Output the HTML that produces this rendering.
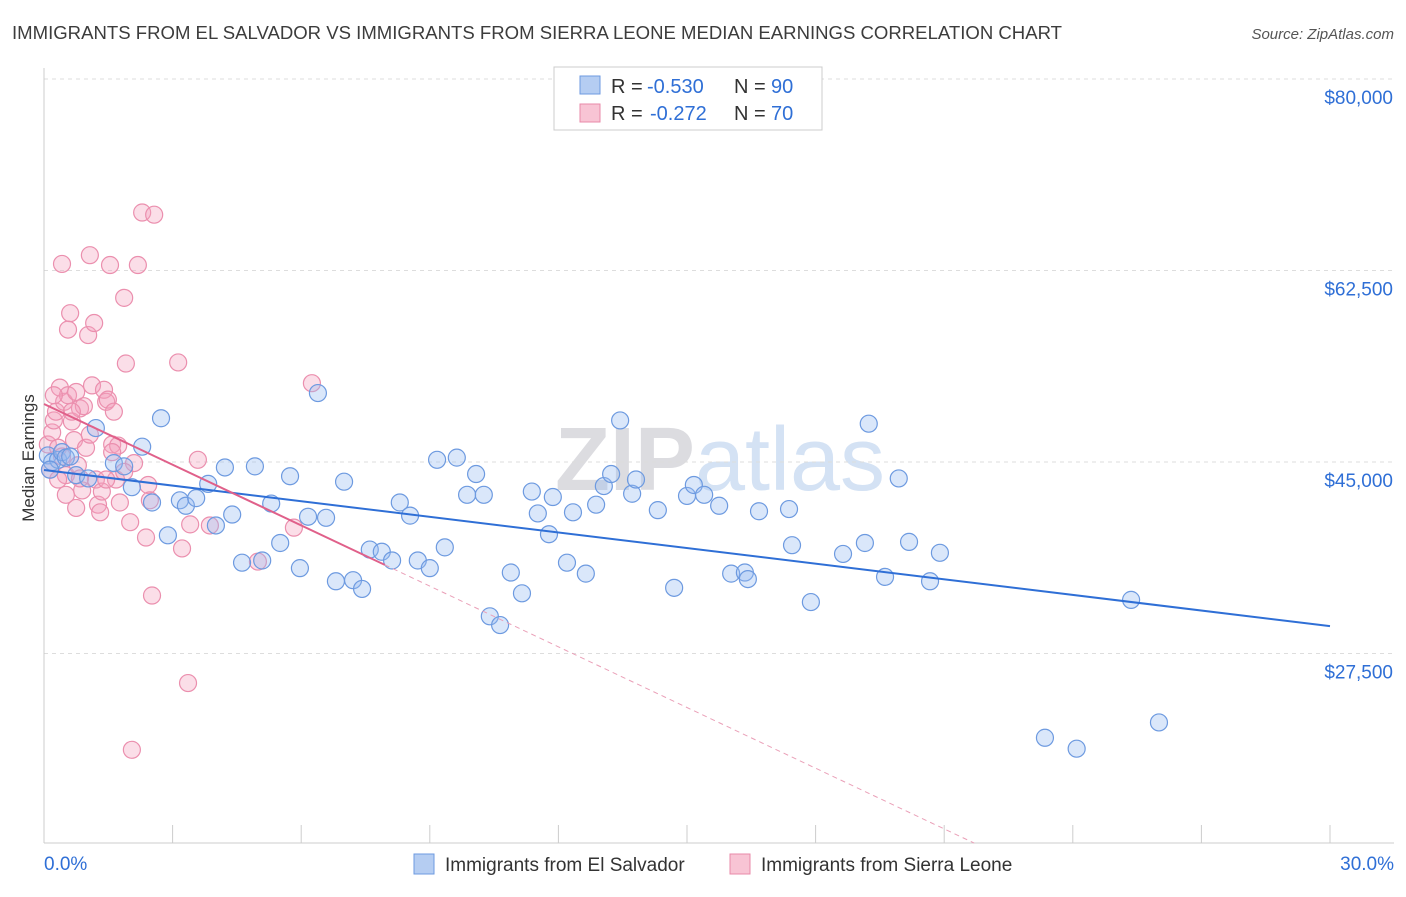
<!DOCTYPE html>
<html><head><meta charset="utf-8"><style>
body{margin:0;background:#fff;font-family:"Liberation Sans",sans-serif;}
svg text{font-family:"Liberation Sans",sans-serif;}
</style></head><body>
<svg id="chart" width="1406" height="892" xmlns="http://www.w3.org/2000/svg">
<text x="12" y="39" font-size="18" fill="#3c3c3c" textLength="1050" lengthAdjust="spacingAndGlyphs">IMMIGRANTS FROM EL SALVADOR VS IMMIGRANTS FROM SIERRA LEONE MEDIAN EARNINGS CORRELATION CHART</text>
<text x="1394" y="39" font-size="15" fill="#555" font-style="italic" text-anchor="end">Source: ZipAtlas.com</text>
<text x="720" y="490" font-size="90" fill="#e4e4ea" text-anchor="middle" font-family="Liberation Serif"><tspan font-weight="bold" fill="#dcdce0">ZIP</tspan><tspan fill="#d4e2f4" font-family="Liberation Sans">atlas</tspan></text>
<g id="grid"></g>
<g id="axes"></g>
<g id="marks"></g>
<text transform="translate(34,458) rotate(-90)" font-size="17" fill="#333" text-anchor="middle">Median Earnings</text>
<g>
<rect x="554" y="67" width="268" height="63" fill="#fff" stroke="#ccc"/>
<rect x="580" y="76" width="20" height="18" fill="#b5cdf2" stroke="#6d9ae0"/>
<rect x="580" y="104" width="20" height="18" fill="#f8c4d4" stroke="#e88aa8"/>
<text x="611" y="93" font-size="20" fill="#333">R =</text>
<text x="647" y="93" font-size="20" fill="#2f6fd6">-0.530</text>
<text x="734" y="93" font-size="20" fill="#333">N =</text>
<text x="771" y="93" font-size="20" fill="#2f6fd6">90</text>
<text x="611" y="120" font-size="20" fill="#333">R =</text>
<text x="650" y="120" font-size="20" fill="#2f6fd6">-0.272</text>
<text x="734" y="120" font-size="20" fill="#333">N =</text>
<text x="771" y="120" font-size="20" fill="#2f6fd6">70</text>
</g>
<g>
<rect x="414" y="854" width="20" height="20" fill="#b5cdf2" stroke="#6d9ae0"/>
<text x="445" y="871" font-size="19" fill="#333">Immigrants from El Salvador</text>
<rect x="730" y="854" width="20" height="20" fill="#f8c4d4" stroke="#e88aa8"/>
<text x="761" y="871" font-size="19" fill="#333">Immigrants from Sierra Leone</text>
</g>
</svg>
<script>
const yTicks=[80000,62500,45000,27500];
const yTickLabels=["$80,000","$62,500","$45,000","$27,500"];
const xTicks=[0,3,6,9,12,15,18,21,24,27,30];
const blueX=[0.09,0.19,0.33,0.42,0.51,0.61,0.14,0.75,1.03,1.21,1.63,1.87,2.05,2.29,2.52,2.73,2.89,3.17,3.31,3.55,3.83,4.01,4.22,4.39,4.62,4.92,5.09,5.30,5.51,5.74,5.97,6.16,6.39,6.58,6.81,7.00,7.21,7.42,7.60,7.88,8.12,8.30,8.54,8.72,9.00,9.17,9.35,9.63,9.87,10.08,10.26,10.40,10.64,10.89,11.15,11.38,11.52,11.78,11.87,12.20,12.34,12.64,12.88,13.06,13.23,13.44,13.72,13.81,14.32,14.70,15.00,15.16,15.40,15.75,16.03,16.35,16.42,16.68,17.38,17.45,17.89,18.64,19.15,19.24,19.62,19.94,20.18,20.67,20.90,23.35,24.09,25.36,26.01];
const blueY=[45.6,45.0,45.2,45.9,45.4,45.5,44.3,43.8,43.5,48.1,44.9,44.6,42.7,46.4,41.3,49.0,38.3,41.5,41.0,41.7,43.0,39.2,44.5,40.2,35.8,44.6,36.0,41.2,37.6,43.7,35.3,40.0,51.3,39.9,34.1,43.2,34.2,33.4,37.0,36.8,36.0,41.3,40.1,36.0,35.3,45.2,37.2,45.4,42.0,43.9,42.0,30.9,30.1,34.9,33.0,42.3,40.3,38.4,41.8,35.8,40.4,34.8,41.1,42.8,43.9,48.8,42.1,43.4,40.6,33.5,41.9,42.9,42.0,41.0,34.8,34.9,34.3,40.5,40.7,37.4,32.2,36.6,37.6,48.5,34.5,43.5,37.7,34.1,36.7,19.8,18.8,32.4,21.2];
const pinkX=[0.09,0.14,0.19,0.23,0.28,0.33,0.37,0.42,0.47,0.51,0.56,0.61,0.65,0.70,0.75,0.79,0.84,0.89,0.93,0.98,1.03,1.07,1.12,1.17,1.21,1.26,1.31,1.35,1.40,1.45,1.49,1.54,1.59,1.63,1.68,1.73,1.77,1.87,1.91,2.01,2.05,2.10,2.19,2.29,2.38,2.43,2.47,2.52,2.57,3.13,3.22,3.36,3.41,3.59,3.87,4.99,5.83,6.25,0.42,1.07,0.33,0.84,0.56,1.45,1.59,1.87,0.65,0.23,0.51,0.75];
const pinkY=[46.6,44.3,47.7,48.8,49.6,46.3,51.8,45.5,50.5,43.8,57.1,58.6,48.7,47.0,40.8,44.7,49.9,42.4,50.1,46.3,56.6,47.5,52.0,57.7,43.4,41.1,40.4,42.3,51.6,50.5,50.7,63.0,46.6,49.6,43.4,46.5,41.3,60.0,54.0,39.5,18.7,44.9,63.0,67.8,38.1,42.9,41.5,32.8,67.6,54.1,37.1,24.8,39.3,45.2,39.2,35.9,39.0,52.2,63.1,63.9,43.4,43.5,51.1,43.4,45.9,44.1,49.6,51.1,42.0,51.4];
const blueTrend=[44.27,30.0];
const pinkTrend=[50.3,35.6,7.95,21.7];
const NS="http://www.w3.org/2000/svg";
const sx=v=>44+v/30*1286;
const sy=v=>79+(80-v)/17.5*191.5;
function mk(tag,attrs,parent){const e=document.createElementNS(NS,tag);for(const k in attrs)e.setAttribute(k,attrs[k]);parent.appendChild(e);return e;}
const grid=document.getElementById('grid'),axes=document.getElementById('axes'),marks=document.getElementById('marks');
yTicks.forEach((t,i)=>{
  const g=mk('line',{x1:44,x2:1394,y1:sy(t/1000),y2:sy(t/1000),stroke:'#ddd','stroke-dasharray':'4,4'},grid);
  
  
  const tx=mk('text',{x:1393,y:sy(t/1000)+25,'font-size':19,fill:'#2f6fd6','text-anchor':'end'},axes);
  tx.textContent=yTickLabels[i];
  
  
});
const ax=mk('line',{x1:44,x2:44,y1:68,y2:843,stroke:'#ccc'},axes);


const bx=mk('line',{x1:44,x2:1394,y1:843,y2:843,stroke:'#ccc'},axes);


xTicks.forEach(t=>{
  const l=mk('line',{x1:sx(t),x2:sx(t),y1:825,y2:843,stroke:'#ccc'},axes);
  
  
});
const xl0=mk('text',{x:44,y:870,'font-size':19,fill:'#2f6fd6'},axes);xl0.textContent='0.0%';


const xl1=mk('text',{x:1394,y:870,'font-size':19,fill:'#2f6fd6','text-anchor':'end'},axes);xl1.textContent='30.0%';


pinkX.forEach((x,i)=>{
  const c=mk('circle',{cx:sx(x),cy:sy(pinkY[i]),r:8.5,fill:'rgba(244,160,188,0.35)',stroke:'#eb8fae','stroke-width':1.2},marks);
  
  
});
blueX.forEach((x,i)=>{
  const c=mk('circle',{cx:sx(x),cy:sy(blueY[i]),r:8.5,fill:'rgba(150,185,240,0.35)',stroke:'#6d9ae0','stroke-width':1.2},marks);
  
  
});
const bt=mk('line',{x1:sx(0),y1:sy(blueTrend[0]),x2:sx(30),y2:sy(blueTrend[1]),stroke:'#2f6fd6','stroke-width':2},marks);


const slope=(pinkTrend[0]-pinkTrend[1])/pinkTrend[2];
const pt=mk('line',{x1:sx(0),y1:sy(pinkTrend[0]),x2:sx(pinkTrend[2]),y2:sy(pinkTrend[1]),stroke:'#e0608a','stroke-width':2},marks);


const pd=mk('line',{x1:sx(pinkTrend[2]),y1:sy(pinkTrend[1]),x2:sx(pinkTrend[3]),y2:sy(pinkTrend[0]-slope*pinkTrend[3]),stroke:'#eaa0b8','stroke-width':1,'stroke-dasharray':'5,4'},marks);


</script>
</body></html>
